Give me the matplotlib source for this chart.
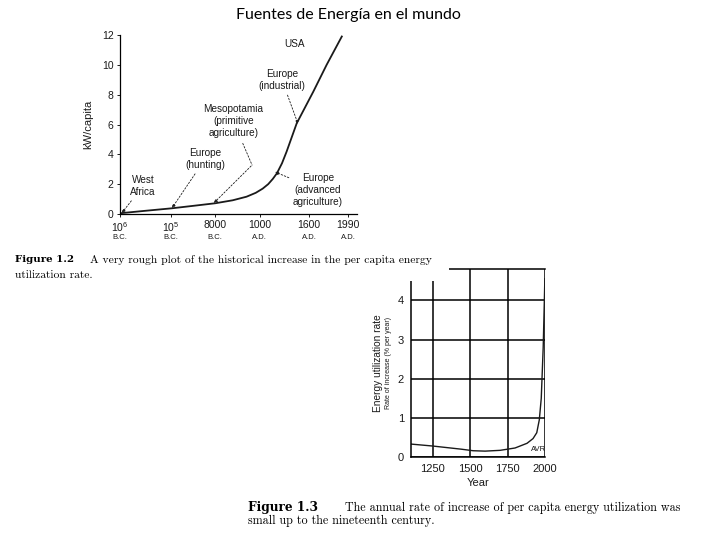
import matplotlib.pyplot as plt
from matplotlib.patches import Rectangle

plt.rcParams["font.family"] = ["Liberation Sans", "DejaVu Sans"]
plt.rcParams["mathtext.fontset"] = "custom"
plt.rcParams["mathtext.rm"] = "Liberation Sans"
plt.rcParams["mathtext.it"] = "Liberation Sans:italic"

# Figure 1.2 data (kW/capita vs era, eras placed as category positions)
era_labels = ["$\\mathrm{10^6}$", "$\\mathrm{10^5}$", "8000", "1000", "1600", "1990"]
era_sub = ["B.C.", "B.C.", "B.C.", "A.D.", "A.D.", "A.D."]
era_pos = [0, 1.11, 2.07, 3.04, 4.11, 4.96]
curve_x = [0.0, 0.5, 1.12, 1.6, 2.07, 2.45, 2.75, 2.95, 3.1, 3.22, 3.32, 3.41,
           3.52, 3.62, 3.84, 4.2, 4.49, 4.82]
curve_y = [0.05, 0.2, 0.38, 0.55, 0.72, 0.92, 1.16, 1.42, 1.7, 2.0, 2.35, 2.73,
           3.4, 4.18, 6.08, 8.2, 10.0, 11.9]

# Figure 1.3 data (annual rate of increase, % per year)
years = [1105, 1250, 1440, 1520, 1600, 1700, 1800, 1880, 1920, 1945, 1962, 1975,
         1988, 1996, 1999]
rate = [0.33, 0.28, 0.2, 0.16, 0.15, 0.17, 0.23, 0.35, 0.47, 0.62, 0.95, 1.5,
        2.8, 4.05, 4.55]

W, H = 720, 540
fig = plt.figure(figsize=(7.2, 5.4), dpi=100)
ink = "#1a1a1a"


def fx(x):
    return x / W


def fy(y):
    return 1 - y / H


def box(l, t, r, b):
    return [fx(l), fy(b), (r - l) / W, (b - t) / H]


fig.text(fx(348), fy(15), "Fuentes de Energía en el mundo", family="Lato",
         fontsize=11.5, ha="center", va="center", color="black")

# ---- Figure 1.2
ax1 = fig.add_axes(box(120, 35, 357, 214))
ax1.plot(curve_x, curve_y, color=ink, lw=1.3)
ax1.set_xlim(0, 5.15)
ax1.set_ylim(0, 12)
ax1.spines[["top", "right"]].set_visible(False)
for s in ["left", "bottom"]:
    ax1.spines[s].set_linewidth(0.9)
ax1.set_yticks(range(0, 13, 2))
ax1.set_xticks(era_pos)
ax1.set_xticklabels(era_labels)
ax1.tick_params(labelsize=7.5, length=2.5, width=0.7, pad=2, colors=ink)
for p, s in zip(era_pos, era_sub):
    ax1.text(p, -0.11, s, transform=ax1.get_xaxis_transform(), ha="center",
             va="top", fontsize=5.5, color=ink)
ax1.set_ylabel("kW/capita", fontsize=8, color=ink, labelpad=6)

arrow = dict(arrowstyle="-|>", linestyle=(0, (2, 2)), lw=0.6, color=ink,
             mutation_scale=5, shrinkA=1, shrinkB=0)
tk = dict(fontsize=7.2, ha="center", va="center", color=ink, linespacing=1.25)
ax1.text(3.80, 11.4, "USA", **tk)
ax1.annotate("Europe\n(industrial)", xy=(3.87, 6.03), xytext=(3.52, 8.98),
             arrowprops=arrow, **tk)
ax1.annotate("Mesopotamia\n(primitive\nagriculture)", xy=(2.87, 3.28),
             xytext=(2.46, 6.23), arrowprops=dict(arrowstyle="-", linestyle=(0, (2, 2)),
                                                  lw=0.6, color=ink, shrinkA=2, shrinkB=0), **tk)
ax1.annotate("", xy=(2.04, 0.74), xytext=(2.87, 3.28), arrowprops=arrow)
ax1.annotate("Europe\n(hunting)", xy=(1.13, 0.40), xytext=(1.85, 3.69),
             arrowprops=arrow, **tk)
ax1.annotate("West\nAfrica", xy=(0.04, 0.07), xytext=(0.5, 1.88),
             arrowprops=arrow, **tk)
ax1.annotate("Europe\n(advanced\nagriculture)", xy=(3.37, 2.82), xytext=(4.3, 1.61),
             arrowprops=arrow, **tk)

fig.text(fx(15), fy(260), "Figure 1.2", family="DejaVu Serif", weight="bold",
         fontsize=7.4, va="center")
fig.text(fx(90), fy(260), "A very rough plot of the historical increase in the per capita energy",
         family="cmr10", fontsize=8.3, va="center")
fig.text(fx(15), fy(275), "utilization rate.", family="cmr10", fontsize=8.3, va="center")

# ---- Figure 1.3
ax2 = fig.add_axes(box(411, 269, 545, 457))
ax2.plot(years, rate, color=ink, lw=1.0)
ax2.set_xlim(1105, 2000)
ax2.set_ylim(0, 4.8)
ax2.set_xticks([1250, 1500, 1750, 2000])
ax2.set_yticks([0, 1, 2, 3, 4])
ax2.grid(True, color="black", lw=1.1)
ax2.spines["right"].set_visible(False)
for s in ["left", "bottom", "top"]:
    ax2.spines[s].set_linewidth(1.1)
ax2.tick_params(length=0, labelsize=8, pad=5, colors=ink)
ax2.text(1955, 0.2, "AVR", fontsize=5.5, ha="center", va="center", color=ink)
ax2.set_xlabel("Year", fontsize=8, color=ink, labelpad=3)
fig.text(fx(378), fy(363), "Energy utilization rate", rotation=90, fontsize=7.3,
         ha="center", va="center", color=ink)
fig.text(fx(389), fy(363), "Rate of increase (% per year)", rotation=90, fontsize=5.0,
         ha="center", va="center", color=ink)
# top-left corner of the scanned figure is cut off
fig.add_artist(Rectangle((fx(398), fy(280.5)), (449 - 398) / W, (280.5 - 265) / H,
                         transform=fig.transFigure, facecolor="white",
                         edgecolor="none", zorder=10))

fig.text(fx(248), fy(508), "Figure 1.3", family="DejaVu Serif", weight="bold",
         fontsize=8.7, va="center")
fig.text(fx(345), fy(508), "The annual rate of increase of per capita energy utilization was",
         family="cmr10", fontsize=8.7, va="center")
fig.text(fx(248), fy(521), "small up to the nineteenth century.", family="cmr10",
         fontsize=8.7, va="center")

fig.savefig("out.png", dpi=100)
